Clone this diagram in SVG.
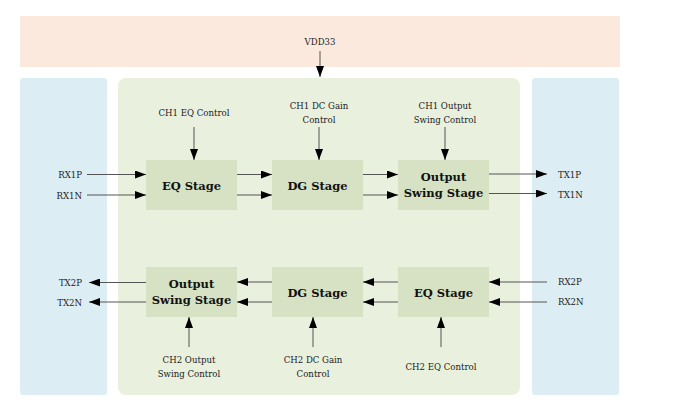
<svg xmlns="http://www.w3.org/2000/svg" width="685" height="406" viewBox="0 0 685 406">
<style>
.lbl{font-family:'DejaVu Serif',serif;font-size:8.6px;fill:#222;}
.box{fill:#d6e2c3;}
.bt{font-family:'DejaVu Serif',serif;font-size:11.5px;font-weight:bold;fill:#111;text-anchor:middle;}
.c{text-anchor:middle;}
.e{text-anchor:end;}
.ln{stroke:#555;stroke-width:1;fill:none;marker-end:url(#ah);}
</style>
<defs>
<marker id="ah" markerUnits="userSpaceOnUse" markerWidth="12" markerHeight="8" refX="11" refY="4" orient="auto">
<path d="M0,0 L11,4 L0,8 Z" fill="#000"/>
</marker>
</defs>
<rect width="685" height="406" fill="#fff"/>
<g id="vdd-band">
<rect x="20" y="16" width="600" height="51" fill="#fce9dd"/>
<text class="lbl c" x="320" y="45">VDD33</text>
</g>
<g id="left-panel"><rect x="20" y="78" width="87" height="317" rx="3" fill="#dcedf4"/></g>
<g id="right-panel"><rect x="532" y="78" width="87" height="317" rx="3" fill="#dcedf4"/></g>
<g id="chip"><rect x="118" y="78" width="402" height="317" rx="8" fill="#e9f0de"/></g>

<g id="eq1"><rect class="box" x="146" y="160" width="91" height="50"/><text class="bt" x="191.5" y="190">EQ Stage</text></g>
<g id="dg1"><rect class="box" x="272" y="160" width="91" height="50"/><text class="bt" x="317.5" y="190">DG Stage</text></g>
<g id="os1"><rect class="box" x="398" y="160" width="91" height="50"/><text class="bt" x="443.5" y="181">Output</text><text class="bt" x="443.5" y="197">Swing Stage</text></g>

<g id="os2"><rect class="box" x="146" y="267" width="91" height="50"/><text class="bt" x="191.5" y="288">Output</text><text class="bt" x="191.5" y="304">Swing Stage</text></g>
<g id="dg2"><rect class="box" x="272" y="267" width="91" height="50"/><text class="bt" x="317.5" y="297">DG Stage</text></g>
<g id="eq2"><rect class="box" x="398" y="267" width="91" height="50"/><text class="bt" x="443.5" y="297">EQ Stage</text></g>

<g id="labels">
<text class="lbl c" x="194" y="116">CH1 EQ Control</text>
<text class="lbl c" x="319" y="109">CH1 DC Gain</text>
<text class="lbl c" x="319" y="123">Control</text>
<text class="lbl c" x="445" y="109">CH1 Output</text>
<text class="lbl c" x="445" y="123">Swing Control</text>
<text class="lbl e" x="82" y="178">RX1P</text>
<text class="lbl e" x="82" y="199">RX1N</text>
<text class="lbl" x="558" y="178">TX1P</text>
<text class="lbl" x="558" y="198">TX1N</text>
<text class="lbl e" x="82" y="286">TX2P</text>
<text class="lbl e" x="82" y="306">TX2N</text>
<text class="lbl" x="558" y="285">RX2P</text>
<text class="lbl" x="558" y="305">RX2N</text>
<text class="lbl c" x="189" y="363">CH2 Output</text>
<text class="lbl c" x="189" y="377">Swing Control</text>
<text class="lbl c" x="313" y="363">CH2 DC Gain</text>
<text class="lbl c" x="313" y="377">Control</text>
<text class="lbl c" x="441" y="370">CH2 EQ Control</text>
</g>

<g id="connectors">
<line class="ln" x1="320" y1="51" x2="320" y2="77"/>
<line class="ln" x1="194" y1="127" x2="194" y2="160"/>
<line class="ln" x1="319" y1="127" x2="319" y2="160"/>
<line class="ln" x1="445" y1="127" x2="445" y2="160"/>
<line class="ln" x1="87" y1="174.5" x2="146" y2="174.5"/>
<line class="ln" x1="87" y1="195" x2="146" y2="195"/>
<line class="ln" x1="237" y1="174.5" x2="272" y2="174.5"/>
<line class="ln" x1="237" y1="195" x2="272" y2="195"/>
<line class="ln" x1="363" y1="174.5" x2="398" y2="174.5"/>
<line class="ln" x1="363" y1="195" x2="398" y2="195"/>
<line class="ln" x1="489" y1="174" x2="547" y2="174"/>
<line class="ln" x1="489" y1="193.5" x2="547" y2="193.5"/>
<line class="ln" x1="547" y1="282" x2="489" y2="282"/>
<line class="ln" x1="547" y1="302" x2="489" y2="302"/>
<line class="ln" x1="398" y1="282" x2="363" y2="282"/>
<line class="ln" x1="398" y1="302" x2="363" y2="302"/>
<line class="ln" x1="272" y1="282" x2="237" y2="282"/>
<line class="ln" x1="272" y1="302" x2="237" y2="302"/>
<line class="ln" x1="146" y1="282.5" x2="89" y2="282.5"/>
<line class="ln" x1="146" y1="302" x2="89" y2="302"/>
<line class="ln" x1="189" y1="347" x2="189" y2="317"/>
<line class="ln" x1="313" y1="347" x2="313" y2="317"/>
<line class="ln" x1="441" y1="347" x2="441" y2="317"/>
</g>
</svg>
